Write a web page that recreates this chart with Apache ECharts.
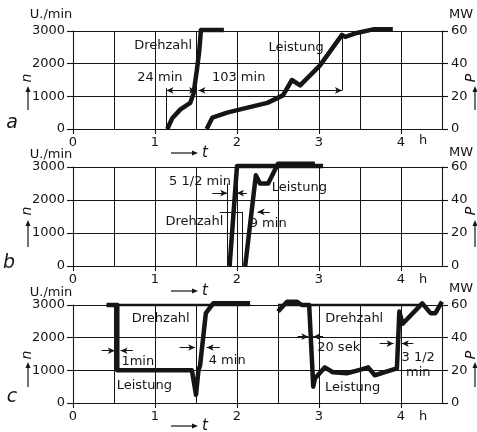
<!DOCTYPE html>
<html><head><meta charset="utf-8">
<script src="https://cdn.jsdelivr.net/npm/echarts@6/dist/echarts.min.js"></script>
<style>html,body{margin:0;padding:0;background:#fff}#c{width:477px;height:432px}</style>
</head><body><div id="c"></div>
<script>
// ---- data (hours on x, U/min on left axis, MW on right axis) ----
const xLabels = [0, 1, 2, 3, 4];
const nRange = [0, 3000];
const pRange = [0, 60];

// panel a: start-up
const drehzahlA = [[1.15,0],[1.21,330],[1.31,600],[1.43,800],[1.47,1090],[1.51,1790],[1.54,2400],[1.56,3030],[1.84,3030]];
const leistungA = [[1.63,0],[1.70,7],[1.88,10],[2.04,12],[2.37,16],[2.56,20.6],[2.67,30],[2.77,26.7],[3.01,38.8],[3.28,57.6],[3.32,56.4],[3.46,58.8],[3.66,61],[3.90,61]];
// panel b: fast start
const drehzahlB = [[1.91,0],[2.0,3030],[3.05,3030]];
const leistungB = [[2.10,0],[2.23,55],[2.28,50],[2.38,50],[2.50,62],[2.95,62]];
// panel c: load rejection
const drehzahlC1 = [[0.41,3000],[2.16,3000]];
const drehzahlC2 = [[2.50,3000],[4.26,3000]];
const leistungC1 = [[0.41,60],[0.54,60],[0.54,20],[1.45,20],[1.50,5],[1.53,20],[1.55,23],[1.62,55],[1.71,61],[2.16,61]];
const leistungC2 = [[2.50,56],[2.61,62],[2.73,62],[2.79,60],[2.88,60],[2.93,10],[2.95,15],[3.07,21.8],[3.17,18.8],[3.34,18.2],[3.52,20.6],[3.60,21.8],[3.68,17],[3.95,21.2],[3.98,56],[4.02,48.5],[4.26,61],[4.36,55],[4.42,55],[4.5,62]];

// annotation lines in data units [x1, n1, x2, n2, arrows: 0 none / 1 end / 2 both]
const notesA = [[1.14,0,1.14,1250,0],[3.28,1180,3.28,2880,0],[1.14,1180,1.50,1180,2],[1.53,1180,3.28,1180,2]];
const notesB = [[1.88,0,1.88,2500,0],[1.70,2210,1.88,2210,1],[2.12,2210,2.00,2210,1],[1.79,1640,2.06,1640,0],[2.06,0,2.06,1640,0],[2.40,1640,2.25,1640,1]];
const notesC = [[0.35,1600,0.51,1600,1],[0.73,1600,0.58,1600,1],[1.30,1700,1.49,1700,1],[1.79,1700,1.63,1700,1],[2.74,2030,2.87,2030,1],[3.05,2030,2.93,2030,1],[3.74,1820,3.91,1820,1],[4.15,1820,4.01,1820,1]];

// annotation texts [text, x, n]
const textsA = [['Drehzahl',1.10,2545],['24 min',1.06,1575],['103 min',2.02,1575],['Leistung',2.72,2485]];
const textsB = [['5 1/2 min',1.55,2545],['Drehzahl',1.48,1330],['9 min',2.38,1270],['Leistung',2.76,2390]];
const textsC = [['Drehzahl',1.07,2575],['1min',0.79,1270],['Leistung',0.87,545],['4 min',1.88,1300],['Drehzahl',3.43,2575],['20 sek',3.24,1700],['Leistung',3.41,485],['3 1/2',4.21,1390],['min',4.21,940]];

// ---- layout / style ----
const FONT = 'DejaVu Sans';
const INK = '#151515';
const panels = [
  {top:31, height:98, n:[drehzahlA], p:[leistungA], nW:4.5, notes:notesA, texts:textsA},
  {top:167, height:99, n:[drehzahlB], p:[leistungB], nW:4.5, notes:notesB, texts:textsB},
  {top:305, height:98, n:[drehzahlC1, drehzahlC2], p:[leistungC1, leistungC2], nW:2.6, notes:notesC, texts:textsC}
];
const lab = {color:INK, fontSize:13, fontFamily:FONT};
const ls = {color:INK, width:1.1};
const plain = v => String(v);

const grid = [], xAxis = [], yAxis = [], series = [];
panels.forEach((P, i) => {
  grid.push({left:73, width:369, top:P.top, height:P.height, outerBoundsMode:'none'});
  xAxis.push({gridIndex:i, type:'value', min:0, max:4.5, interval:0.5, position:'bottom',
    axisLine:{show:true, onZero:false, lineStyle:ls},
    axisTick:{show:true, length:5, customValues:xLabels, lineStyle:ls},
    axisLabel:Object.assign({customValues:xLabels, margin:7, formatter:plain}, lab),
    splitLine:{show:false}});
  xAxis.push({gridIndex:i, type:'value', min:0, max:4.5, interval:0.5, position:'top',
    axisLine:{show:true, onZero:false, lineStyle:ls}, axisTick:{show:false}, axisLabel:{show:false},
    splitLine:{show:true, lineStyle:{color:INK, width:1}}});
  yAxis.push({gridIndex:i, type:'value', min:nRange[0], max:nRange[1], interval:1000, position:'left',
    axisLine:{show:true, onZero:false, lineStyle:ls}, axisTick:{show:true, length:6, lineStyle:ls},
    axisLabel:Object.assign({margin:8, formatter:plain}, lab), splitLine:{show:true, lineStyle:{color:INK, width:1}}});
  yAxis.push({gridIndex:i, type:'value', min:pRange[0], max:pRange[1], interval:20, position:'right',
    axisLine:{show:true, onZero:false, lineStyle:ls}, axisTick:{show:true, length:6, lineStyle:ls},
    axisLabel:Object.assign({margin:9, formatter:plain}, lab), splitLine:{show:false}});
  P.n.forEach((d, k) => {
    const s = {type:'line', xAxisIndex:2*i, yAxisIndex:2*i, data:d, showSymbol:false, symbol:'none', clip:false, silent:true,
      lineStyle:{color:INK, width:P.nW, join:'round'}, z:5};
    if (k === 0) {
      s.markLine = {silent:true, symbolSize:[5,7], label:{show:false}, animation:false,
        lineStyle:{color:INK, width:1, type:'solid', opacity:1},
        data:P.notes.map(a => [{coord:[a[0],a[1]], symbol:a[4]===2?'arrow':'none'},{coord:[a[2],a[3]], symbol:a[4]>=1?'arrow':'none'}])};
    }
    series.push(s);
  });
  P.p.forEach(d => series.push({type:'line', xAxisIndex:2*i, yAxisIndex:2*i+1, data:d, showSymbol:false, symbol:'none', clip:false, silent:true,
      lineStyle:{color:INK, width:4.5, join:'round'}, z:6}));
  series.push({type:'scatter', xAxisIndex:2*i, yAxisIndex:2*i, symbolSize:0, silent:true, z:8,
    itemStyle:{color:'rgba(0,0,0,0)', opacity:1},
    data:P.texts.map(t => ({name:t[0], value:[t[1], t[2]]})),
    label:Object.assign({show:true, position:'inside', formatter:'{b}', opacity:1, textBorderWidth:0}, lab)});
});

// ---- decorations outside the plots ----
function txt(x, y, s, extra) {
  return {type:'text', x:x, y:y, silent:true, style:Object.assign({text:s, fill:INK, font:'13px "' + FONT + '"', align:'center', verticalAlign:'middle'}, extra || {})};
}
function arrowUp(x, y1, y2) {
  return [{type:'line', silent:true, shape:{x1:x, y1:y1, x2:x, y2:y2+5}, style:{stroke:INK, lineWidth:1.2}},
          {type:'polygon', silent:true, shape:{points:[[x-2.5,y2+6],[x+2.5,y2+6],[x,y2]]}, style:{fill:INK}}];
}
function arrowRight(x1, x2, y) {
  return [{type:'line', silent:true, shape:{x1:x1, y1:y, x2:x2-5, y2:y}, style:{stroke:INK, lineWidth:1.2}},
          {type:'polygon', silent:true, shape:{points:[[x2-6,y-2.5],[x2-6,y+2.5],[x2,y]]}, style:{fill:INK}}];
}
const g = [];
[[15,15,'a',12,123,78,86,110,141,153],[155,153,'b',9,263,211,220,247,280,291],[293,289,'c',12,397,355,362,387,417,426]].forEach(r => {
  g.push(txt(51, r[0], 'U./min'));
  g.push(txt(461, r[1], 'MW'));
  g.push(txt(r[3], r[4], r[2], {font:'italic 19px "' + FONT + '"'}));
  g.push(Object.assign(txt(27, r[5], 'n', {font:'italic 14px "' + FONT + '"'}), {rotation:Math.PI/2}));
  g.push(...arrowUp(28, r[7], r[6]));
  g.push(Object.assign(txt(471, r[5], 'P', {font:'italic 14px "' + FONT + '"'}), {rotation:Math.PI/2}));
  g.push(...arrowUp(475, r[7], r[6]));
  g.push(...arrowRight(171, 198, r[9]));
  g.push(txt(205, r[9], 't', {font:'italic 15px "' + FONT + '"'}));
  g.push(txt(423, r[8], 'h'));
});

const chart = echarts.init(document.getElementById('c'), null, {renderer:'canvas', width:477, height:432});
chart.setOption({animation:false, backgroundColor:'#ffffff', grid:grid, xAxis:xAxis, yAxis:yAxis, series:series, graphic:g});
</script>
</body></html>
